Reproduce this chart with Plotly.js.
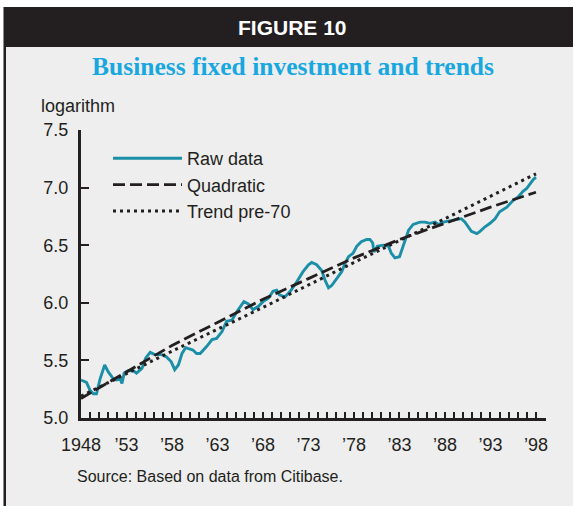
<!DOCTYPE html>
<html>
<head>
<meta charset="utf-8">
<script src="https://cdn.plot.ly/plotly-3.0.1.min.js"></script>
<style>html,body{margin:0;padding:0;background:#fff;}#chart{width:573px;height:506px;}</style>
</head>
<body>
<div id="chart"></div>
<script>
// Raw data (year, log of business fixed investment)
const rawYears = [1948.0,1948.6,1949.0,1949.35,1949.7,1950.1,1950.6,1951.0,1951.55,1951.9,1952.3,1952.5,1952.75,1953.2,1953.75,1954.1,1954.7,1955.1,1955.6,1956.1,1956.9,1957.4,1957.9,1958.3,1958.7,1959.1,1959.5,1960.0,1960.3,1960.7,1961.1,1961.8,1962.4,1962.9,1963.5,1964.0,1964.6,1965.1,1965.5,1965.9,1966.4,1966.9,1967.5,1968.0,1968.6,1969.1,1969.5,1969.8,1970.4,1971.0,1971.7,1972.4,1973.0,1973.35,1973.9,1974.45,1974.8,1975.2,1975.55,1976.1,1976.65,1977.0,1977.4,1977.9,1978.3,1978.8,1979.4,1979.75,1980.05,1980.2,1980.55,1981.2,1981.8,1982.1,1982.5,1983.0,1983.4,1984.0,1984.5,1985.25,1985.8,1986.35,1986.9,1987.3,1987.8,1988.55,1989.3,1989.8,1990.2,1990.6,1990.9,1991.5,1991.85,1992.4,1992.95,1993.5,1994.0,1994.8,1995.5,1996.05,1996.6,1996.95,1997.3,1997.7,1998.0];
const rawValues = [5.33,5.31,5.24,5.21,5.21,5.34,5.46,5.40,5.34,5.33,5.34,5.30,5.39,5.41,5.41,5.39,5.43,5.52,5.57,5.55,5.55,5.53,5.49,5.42,5.46,5.56,5.61,5.60,5.59,5.56,5.56,5.62,5.68,5.69,5.75,5.84,5.85,5.92,5.97,6.01,5.99,5.94,5.97,6.01,6.04,6.10,6.11,6.07,6.05,6.10,6.18,6.27,6.33,6.35,6.33,6.28,6.20,6.13,6.15,6.21,6.27,6.34,6.40,6.43,6.49,6.53,6.55,6.55,6.52,6.44,6.49,6.50,6.49,6.43,6.39,6.40,6.50,6.63,6.68,6.70,6.70,6.69,6.70,6.68,6.70,6.71,6.72,6.73,6.70,6.66,6.62,6.60,6.62,6.66,6.69,6.73,6.79,6.83,6.89,6.92,6.97,6.99,7.03,7.07,7.09];

// Quadratic trend, read at 5-year steps
const quadYears = [1948,1953,1958,1963,1968,1973,1978,1983,1988,1993,1998];
const quadValues = [5.17,5.40,5.63,5.83,6.03,6.21,6.39,6.55,6.69,6.83,6.96];

// Linear trend fitted pre-1970
const trendYears = [1948,1958,1968,1978,1988,1998];
const trendValues = [5.19,5.58,5.96,6.35,6.73,7.12];

// Axis labels
const xTickVals = [1948,1953,1958,1963,1968,1973,1978,1983,1988,1993,1998];
const xTickText = ["1948","\u201953","\u201958","\u201963","\u201968","\u201973","\u201978","\u201983","\u201988","\u201993","\u201998"];
const yTickVals = [5.0,5.5,6.0,6.5,7.0,7.5];

const W = 573, H = 506;
const M = {l:81, r:27, t:130, b:88};
const pw = W - M.l - M.r, ph = H - M.t - M.b;
const px = x => (x - M.l) / pw;
const py = y => (H - M.b - y) / ph;

const ink = '#231f20';
const teal = '#1a8fa7';
const sans = 'Liberation Sans, Arial, sans-serif';

const traces = [
  {x: rawYears, y: rawValues, type:'scatter', mode:'lines', name:'Raw data',
   line:{color:teal, width:2.9}},
  {x: quadYears, y: quadValues, type:'scatter', mode:'lines', name:'Quadratic',
   line:{color:ink, width:2.8, dash:'12px,5px'}},
  {x: trendYears, y: trendValues, type:'scatter', mode:'lines', name:'Trend pre-70',
   line:{color:ink, width:3, dash:'3px,4px'}}
];

const layout = {
  width: W, height: H,
  margin: M,
  paper_bgcolor: '#eeeeee',
  plot_bgcolor: '#eeeeee',
  showlegend: true,
  legend: {x: px(108), y: py(140), xanchor:'left', yanchor:'top',
           bgcolor:'rgba(0,0,0,0)', font:{family:sans, size:18, color:ink},
           itemwidth: 69, tracegroupgap: 0},
  title: {text:'Business fixed investment and trends', x: 293/W, xanchor:'center',
          y: 1 - 66/H, yanchor:'middle', yref:'container',
          font:{family:'Liberation Serif, Times New Roman, serif', size:25.5, color:'#19a7e0', weight:'bold'}},
  xaxis: {range:[1948, 1999.1], showgrid:false, zeroline:false, showline:true,
          linecolor:ink, linewidth:3, ticks:'inside', ticklen:6, tickwidth:2, tickcolor:ink,
          tickvals:xTickVals, ticktext:xTickText, ticklabelstandoff:8,
          tickfont:{family:sans, size:18, color:ink},
          minor:{tick0:1948, dtick:1, ticks:'inside', ticklen:6, tickwidth:2, tickcolor:ink},
          fixedrange:true},
  yaxis: {range:[5.0, 7.5], showgrid:false, zeroline:false, showline:true,
          linecolor:ink, linewidth:3, ticks:'inside', ticklen:8, tickwidth:2, tickcolor:ink,
          tickvals:yTickVals, tickformat:'.1f', ticklabelstandoff:6,
          tickfont:{family:sans, size:18, color:ink}, fixedrange:true},
  shapes: [
    {type:'rect', xref:'paper', yref:'paper', x0:px(0), x1:px(W), y0:py(0), y1:py(7), fillcolor:'#ffffff', line:{width:0}},
    {type:'rect', xref:'paper', yref:'paper', x0:px(0), x1:px(3.5), y0:py(0), y1:py(H), fillcolor:'#ffffff', line:{width:0}},
    {type:'rect', xref:'paper', yref:'paper', x0:px(3.5), x1:px(W), y0:py(7), y1:py(47), fillcolor:ink, line:{width:0}},
    {type:'rect', xref:'paper', yref:'paper', x0:px(3.5), x1:px(6), y0:py(47), y1:py(H), fillcolor:ink, line:{width:0}}
  ],
  annotations: [
    {text:'FIGURE 10', xref:'paper', yref:'paper', x:px(292), y:py(28), xanchor:'center', yanchor:'middle',
     showarrow:false, font:{family:sans, size:21, color:'#ffffff', weight:'bold'}},
    {text:'logarithm', xref:'paper', yref:'paper', x:px(39), y:py(106), xanchor:'left', yanchor:'middle',
     showarrow:false, font:{family:sans, size:18, color:ink}},
    {text:'Source: Based on data from Citibase.', xref:'paper', yref:'paper', x:px(75), y:py(476), xanchor:'left', yanchor:'middle',
     showarrow:false, font:{family:sans, size:16, color:ink}}
  ]
};

Plotly.newPlot('chart', traces, layout, {displayModeBar:false, staticPlot:true});
</script>
</body>
</html>
